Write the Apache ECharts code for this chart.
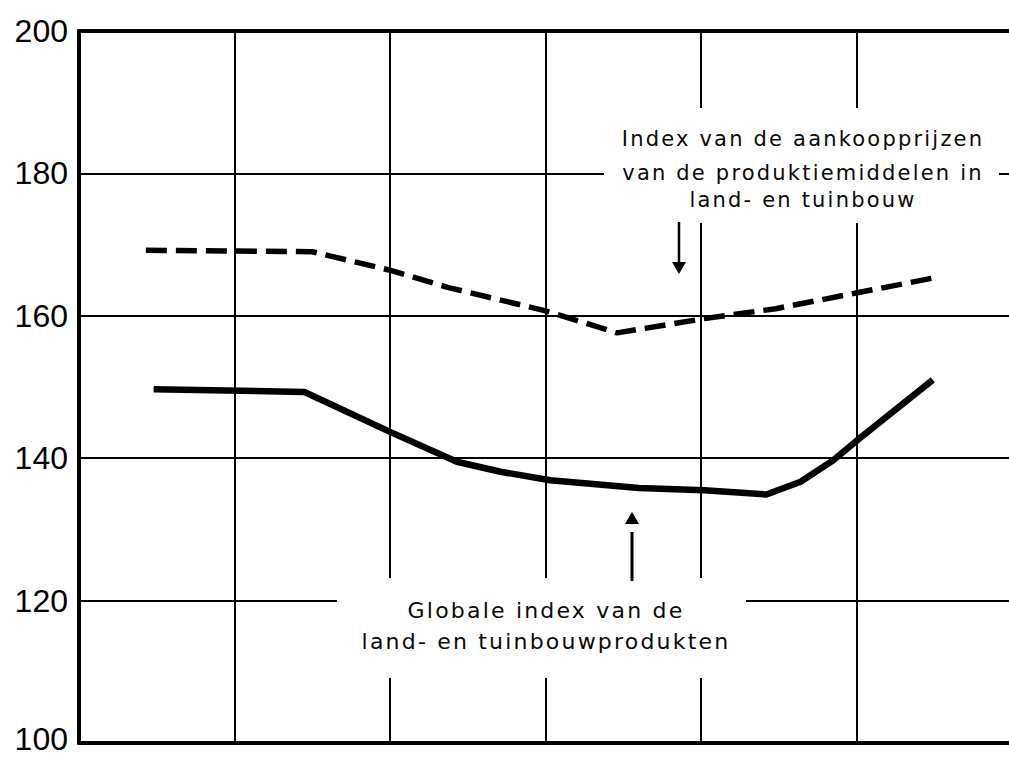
<!DOCTYPE html>
<html>
<head>
<meta charset="utf-8">
<script src="https://cdn.jsdelivr.net/npm/echarts@6/dist/echarts.min.js"></script>
<style>
html,body{margin:0;padding:0;background:#fff;overflow:hidden;}
#main{width:1009px;height:759px;overflow:hidden;}
/* wijde letterafstand van de bijschriften */
#main text[fill="#0a0a0a"], #main text[style*="DejaVu"], #main text[font-family*="DejaVu"]{letter-spacing:2.2px;}
</style>
</head>
<body>
<div id="main"></div>
<script>
// Index van de aankoopprijzen van de produktiemiddelen (gestreept)
var aankoopX = [0.43, 1.5, 2.0, 2.37, 3.0, 3.46, 4.02, 4.48, 5.02, 5.49];
var aankoopY = [169.2, 169.0, 166.4, 164.0, 160.7, 157.6, 159.6, 161.0, 163.3, 165.3];
// Globale index van de land- en tuinbouwprodukten (doorgetrokken)
var globaalX = [0.48, 1.45, 2.0, 2.43, 2.71, 3.03, 3.6, 4.02, 4.42, 4.64, 4.85, 5.02, 5.49];
var globaalY = [149.7, 149.3, 143.7, 139.5, 138.1, 136.9, 135.8, 135.5, 134.9, 136.7, 139.7, 142.8, 151.0];
// assen: de rechterrand (x = 6) valt net buiten het beeld
var yTicks = [100, 120, 140, 160, 180, 200];
var xMin = 0, xMax = 5.98;

var myChart = echarts.init(document.getElementById('main'), null, {renderer: 'svg'});

function pts(xs, ys) {
  return xs.map(function (x, i) { return [x, ys[i]]; });
}

var annFont = '"DejaVu Sans"';
var labelFont = '"Liberation Sans", Arial, sans-serif';

var option = {
  animation: false,
  backgroundColor: '#fff',
  grid: {
    left: 79, top: 31, width: 930, height: 712,
    outerBoundsMode: 'none',
    containLabel: false
  },
  xAxis: [
    {
      type: 'value',
      min: xMin, max: xMax, interval: 1,
      axisLine: {show: true, onZero: false, lineStyle: {color: '#000', width: 4}},
      axisTick: {show: false},
      axisLabel: {show: false},
      splitLine: {show: true, showMinLine: false, showMaxLine: false, lineStyle: {color: '#000', width: 2}}
    },
    {
      // bovenrand
      type: 'value', position: 'top',
      min: xMin, max: xMax, interval: 1,
      axisLine: {show: true, onZero: false, lineStyle: {color: '#000', width: 4}},
      axisTick: {show: false},
      axisLabel: {show: false},
      splitLine: {show: false}
    }
  ],
  yAxis: {
    type: 'value',
    min: yTicks[0], max: yTicks[yTicks.length - 1], interval: yTicks[1] - yTicks[0],
    axisLine: {show: true, onZero: false, lineStyle: {color: '#000', width: 4}},
    axisTick: {show: false},
    axisLabel: {
      margin: 11, color: '#000', fontSize: 32, lineHeight: 32,
      fontFamily: labelFont,
      formatter: function (v) {
        return v === yTicks[0] ? '{laag|' + v + '}' : String(v);
      },
      rich: {
        laag: {color: '#000', fontSize: 32, lineHeight: 32, fontFamily: labelFont, padding: [0, 0, 8, 0]}
      }
    },
    splitLine: {show: true, lineStyle: {color: '#000', width: 2}}
  },
  series: [
    {
      name: 'Index van de aankoopprijzen',
      type: 'line',
      data: pts(aankoopX, aankoopY),
      showSymbol: false,
      z: 5,
      lineStyle: {color: '#000', width: 5.5, type: [21, 9]}
    },
    {
      name: 'Globale index',
      type: 'line',
      data: pts(globaalX, globaalY),
      showSymbol: false,
      z: 5,
      lineStyle: {color: '#000', width: 6.5, join: 'round'}
    }
  ],
  graphic: [
    // witte vlakken achter de bijschriften
    {type: 'rect', z: 10, shape: {x: 604, y: 108, width: 395, height: 115}, style: {fill: '#fff'}},
    {type: 'rect', z: 10, shape: {x: 337, y: 578, width: 409, height: 100}, style: {fill: '#fff'}},
    // bovenste bijschrift
    {type: 'text', z: 11, x: 803, y: 138.5, style: {text: 'Index van de aankoopprijzen', font: '21px ' + annFont, fill: '#0a0a0a', align: 'center', verticalAlign: 'middle'}},
    {type: 'text', z: 11, x: 803, y: 172.5, style: {text: 'van de produktiemiddelen in', font: '21px ' + annFont, fill: '#0a0a0a', align: 'center', verticalAlign: 'middle'}},
    {type: 'text', z: 11, x: 803, y: 199.5, style: {text: 'land- en tuinbouw', font: '21px ' + annFont, fill: '#0a0a0a', align: 'center', verticalAlign: 'middle'}},
    // onderste bijschrift
    {type: 'text', z: 11, x: 546, y: 610.5, style: {text: 'Globale index van de', font: '22px ' + annFont, fill: '#0a0a0a', align: 'center', verticalAlign: 'middle'}},
    {type: 'text', z: 11, x: 546, y: 641.5, style: {text: 'land- en tuinbouwprodukten', font: '22px ' + annFont, fill: '#0a0a0a', align: 'center', verticalAlign: 'middle'}},
    // pijl omlaag
    {type: 'line', z: 11, shape: {x1: 679, y1: 222, x2: 679, y2: 263}, style: {stroke: '#000', lineWidth: 2.5}},
    {type: 'polygon', z: 11, shape: {points: [[672, 262], [686, 262], [679, 274]]}, style: {fill: '#000'}},
    // pijl omhoog
    {type: 'line', z: 11, shape: {x1: 632, y1: 532, x2: 632, y2: 581}, style: {stroke: '#000', lineWidth: 3}},
    {type: 'polygon', z: 11, shape: {points: [[625, 524], [639, 524], [632, 512]]}, style: {fill: '#000'}}
  ]
};

myChart.setOption(option);
</script>
</body>
</html>
